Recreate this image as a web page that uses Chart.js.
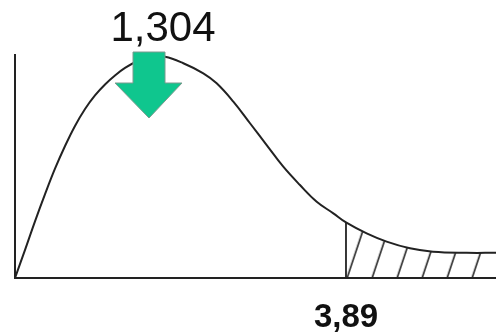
<!DOCTYPE html>
<html>
<head>
<meta charset="utf-8">
<script src="https://cdn.jsdelivr.net/npm/chart.js@4/dist/chart.umd.min.js"></script>
<style>
html,body{margin:0;padding:0;background:#fff;}
#wrap{width:496px;height:334px;position:relative;}
</style>
</head>
<body>
<div id="wrap"><canvas id="c" width="496" height="334"></canvas></div>
<script>
// Curve (x in F units, y relative density)
const curveX = [0, 0.118, 0.235, 0.353, 0.470, 0.588, 0.705, 0.823, 0.940, 1.058, 1.175, 1.293, 1.434, 1.587, 1.763, 1.978, 2.213, 2.370, 2.566, 2.762, 2.958, 3.153, 3.349, 3.546, 3.741, 3.89, 4.133, 4.368, 4.642, 4.912, 5.308, 5.653];
const curveY = [0, 0.126, 0.254, 0.376, 0.490, 0.592, 0.682, 0.758, 0.819, 0.868, 0.908, 0.942, 0.972, 0.994, 0.992, 0.963, 0.918, 0.873, 0.791, 0.694, 0.596, 0.499, 0.417, 0.342, 0.290, 0.249, 0.200, 0.163, 0.133, 0.118, 0.113, 0.113];
const criticalValue = 3.89;
const criticalLabel = "3,89";
const statLabel = "1,304";
const arrowX = 1.575;   // where the arrow points on the x axis
const xMax = 5.653;

const curve = curveX.map((x, i) => ({x, y: curveY[i]}));
const tail = curve.filter(p => p.x >= criticalValue);
const critY = curveY[curveX.indexOf(criticalValue)];
const critLine = [{x: criticalValue, y: 0}, {x: criticalValue, y: critY}];

// hatch pattern
function makeHatch() {
  const w = 25, h = 75;
  const pc = document.createElement('canvas');
  pc.width = w; pc.height = h;
  const p = pc.getContext('2d');
  p.strokeStyle = '#222';
  p.lineWidth = 1.6;
  p.beginPath();
  for (let k = -1; k <= 1; k++) {
    p.moveTo(k * w, h); p.lineTo(k * w + w, 0);
  }
  p.stroke();
  const pat = document.getElementById('c').getContext('2d').createPattern(pc, 'repeat');
  if (pat.setTransform) pat.setTransform(new DOMMatrix().translate(14.7, 0));
  return pat;
}

const annotations = {
  id: 'annot',
  afterDatasetsDraw(chart) {
    const ctx = chart.ctx;
    const xs = chart.scales.x, ys = chart.scales.y;
    const ax = xs.getPixelForValue(arrowX);
    const top = ys.getPixelForValue(1) - 3;
    ctx.save();
    // green block arrow
    ctx.beginPath();
    ctx.moveTo(ax - 16, top);
    ctx.lineTo(ax + 16, top);
    ctx.lineTo(ax + 16, top + 31);
    ctx.lineTo(ax + 33, top + 31);
    ctx.lineTo(ax, top + 66);
    ctx.lineTo(ax - 34, top + 31);
    ctx.lineTo(ax - 16, top + 31);
    ctx.closePath();
    ctx.fillStyle = '#0fc68e';
    ctx.fill();
    ctx.strokeStyle = '#7a9a8e';
    ctx.lineWidth = 1;
    ctx.stroke();
    // stat label
    ctx.fillStyle = '#111';
    ctx.font = '42px "Liberation Sans", Arial, sans-serif';
    ctx.textAlign = 'center';
    ctx.textBaseline = 'alphabetic';
    ctx.fillText(statLabel, ax + 14, top - 11);
    // critical value label
    const cx = xs.getPixelForValue(criticalValue);
    ctx.font = 'bold 33px "Liberation Sans", Arial, sans-serif';
    ctx.fillText(criticalLabel, cx, ys.getPixelForValue(0) + 49);
    ctx.restore();
  }
};

new Chart(document.getElementById('c'), {
  type: 'line',
  data: {
    datasets: [
      {
        data: tail,
        borderWidth: 0,
        pointRadius: 0,
        fill: 'origin',
        backgroundColor: makeHatch(),
        tension: 0.4,
        order: 3
      },
      {
        data: critLine,
        borderColor: '#222',
        borderWidth: 1.8,
        pointRadius: 0,
        fill: false,
        tension: 0,
        order: 2
      },
      {
        data: curve,
        borderColor: '#222',
        borderWidth: 2,
        pointRadius: 0,
        fill: false,
        tension: 0.4,
        order: 1
      }
    ]
  },
  options: {
    responsive: false,
    animation: false,
    events: [],
    layout: {padding: {left: 15, right: 0, top: 55, bottom: 56}},
    plugins: {legend: {display: false}, tooltip: {enabled: false}},
    scales: {
      x: {
        type: 'linear', min: 0, max: xMax,
        grid: {display: false, drawTicks: false},
        ticks: {display: false},
        border: {display: true, color: '#222', width: 2}
      },
      y: {
        min: 0, max: 1,
        grid: {display: false, drawTicks: false},
        ticks: {display: false},
        border: {display: true, color: '#222', width: 2}
      }
    }
  },
  plugins: [annotations]
});
</script>
</body>
</html>
